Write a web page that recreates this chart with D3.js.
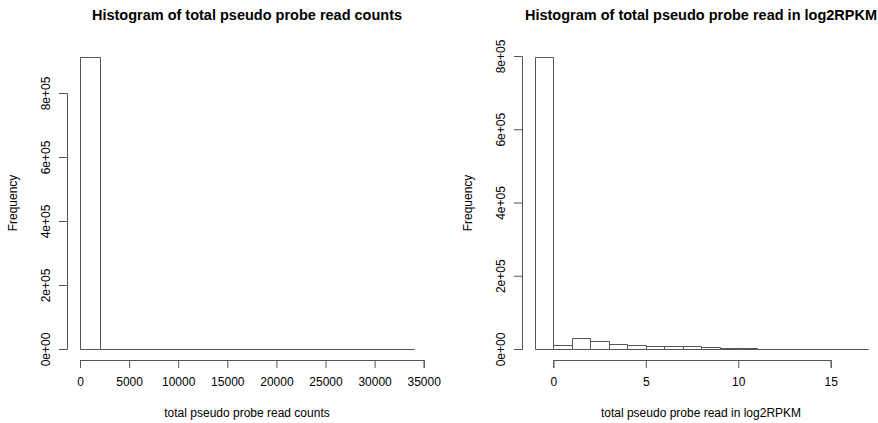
<!DOCTYPE html>
<html>
<head>
<meta charset="utf-8">
<script src="https://cdn.jsdelivr.net/npm/d3@7"></script>
<style>
  body { margin: 0; background: #fff; }
  svg text { font-family: "Liberation Sans", Arial, sans-serif; fill: #000; }
</style>
</head>
<body>
<div id="chart"></div>
<script>
// histogram breaks and frequencies
const countBreaks = [0, 2000, 4000, 6000, 8000, 10000, 12000, 14000, 16000, 18000,
  20000, 22000, 24000, 26000, 28000, 30000, 32000, 34000];
const countFreq = [912000, 1500, 600, 300, 150, 90, 60, 40, 30, 20, 15, 10, 8, 6, 4, 3, 2];

const logBreaks = [-1, 0, 1, 2, 3, 4, 5, 6, 7, 8, 9, 10, 11, 12, 13, 14, 15, 16, 17];
const logFreq = [796000, 11000, 31000, 23000, 15000, 12000, 9500, 8500, 8000, 4500,
  2800, 1800, 400, 150, 60, 20, 5, 1];

// tick values / labels
const countTicks = [0, 5000, 10000, 15000, 20000, 25000, 30000, 35000];
const logTicks = [0, 5, 10, 15];
const freqTicks = [0, 200000, 400000, 600000, 800000];
const freqLabels = ["0e+00", "2e+05", "4e+05", "6e+05", "8e+05"];

const width = 878;
const height = 423;
const lineColor = "#555";

const svg = d3.select("#chart")
  .append("svg")
  .attr("width", width)
  .attr("height", height);

function drawPanel(cfg) {
  const g = svg.append("g");

  const x = d3.scaleLinear().domain(cfg.xDomain).range(cfg.xRange);
  const y = d3.scaleLinear().domain([0, 800000]).range(cfg.yRange);

  // bars as outlined paths so empty bins still show on the baseline
  const bins = cfg.freq.map((f, i) => ({ x0: cfg.breaks[i], x1: cfg.breaks[i + 1], f: f }));
  g.selectAll("path.bar")
    .data(bins)
    .enter()
    .append("path")
    .attr("class", "bar")
    .attr("d", d => {
      const x0 = Math.round(x(d.x0)) + 0.5;
      const x1 = Math.round(x(d.x1)) + 0.5;
      const yb = Math.round(y(0)) + 0.5;
      const yt = Math.round(y(d.f)) + 0.5;
      return "M" + x0 + "," + yb + "V" + yt + "H" + x1 + "V" + yb + "Z";
    })
    .attr("fill", "none")
    .attr("stroke", lineColor)
    .attr("stroke-width", 1);

  // x axis (R style: line from first to last tick, ticks pointing down)
  const xAxis = d3.axisBottom(x)
    .tickValues(cfg.xTicks)
    .tickFormat(d3.format("d"))
    .tickSize(8)
    .tickSizeOuter(8)
    .tickPadding(9);
  const gx = g.append("g")
    .attr("transform", "translate(0," + cfg.xAxisY + ")")
    .call(xAxis);
  gx.selectAll("path, line").attr("stroke", lineColor);
  gx.selectAll("text")
    .style("font-size", "12px")
    .attr("fill", "#000");

  // y axis with rotated labels
  const yAxis = d3.axisLeft(y)
    .tickValues(freqTicks)
    .tickFormat((d, i) => freqLabels[i])
    .tickSize(8)
    .tickSizeOuter(8);
  const gy = g.append("g")
    .attr("transform", "translate(" + cfg.yAxisX + ",0)")
    .call(yAxis);
  gy.selectAll("path, line").attr("stroke", lineColor);
  gy.selectAll("text")
    .attr("x", 0)
    .attr("y", -17)
    .attr("dy", 0)
    .attr("transform", "rotate(-90)")
    .style("text-anchor", "middle")
    .style("font-size", "12px")
    .attr("fill", "#000");

  // title
  g.append("text")
    .attr("x", cfg.center)
    .attr("y", 20)
    .attr("text-anchor", "middle")
    .style("font-size", "14.5px")
    .style("font-weight", "bold")
    .text(cfg.title);

  // x label
  g.append("text")
    .attr("x", cfg.center)
    .attr("y", 417)
    .attr("text-anchor", "middle")
    .style("font-size", "12px")
    .text(cfg.xLabel);

  // y label
  g.append("text")
    .attr("transform", "translate(" + (cfg.yAxisX - 50) + ",203) rotate(-90)")
    .attr("text-anchor", "middle")
    .style("font-size", "12px")
    .text("Frequency");
}

drawPanel({
  breaks: countBreaks,
  freq: countFreq,
  xDomain: [0, 35000],
  xRange: [80, 423.7],
  yRange: [349, 93],
  xTicks: countTicks,
  xAxisY: 360,
  yAxisX: 67,
  center: 247,
  title: "Histogram of total pseudo probe read counts",
  xLabel: "total pseudo probe read counts"
});

drawPanel({
  breaks: logBreaks,
  freq: logFreq,
  xDomain: [0, 15],
  xRange: [553.3, 830.7],
  yRange: [349, 56],
  xTicks: logTicks,
  xAxisY: 360,
  yAxisX: 522,
  center: 701,
  title: "Histogram of total pseudo probe read in log2RPKM",
  xLabel: "total pseudo probe read in log2RPKM"
});
</script>
</body>
</html>
